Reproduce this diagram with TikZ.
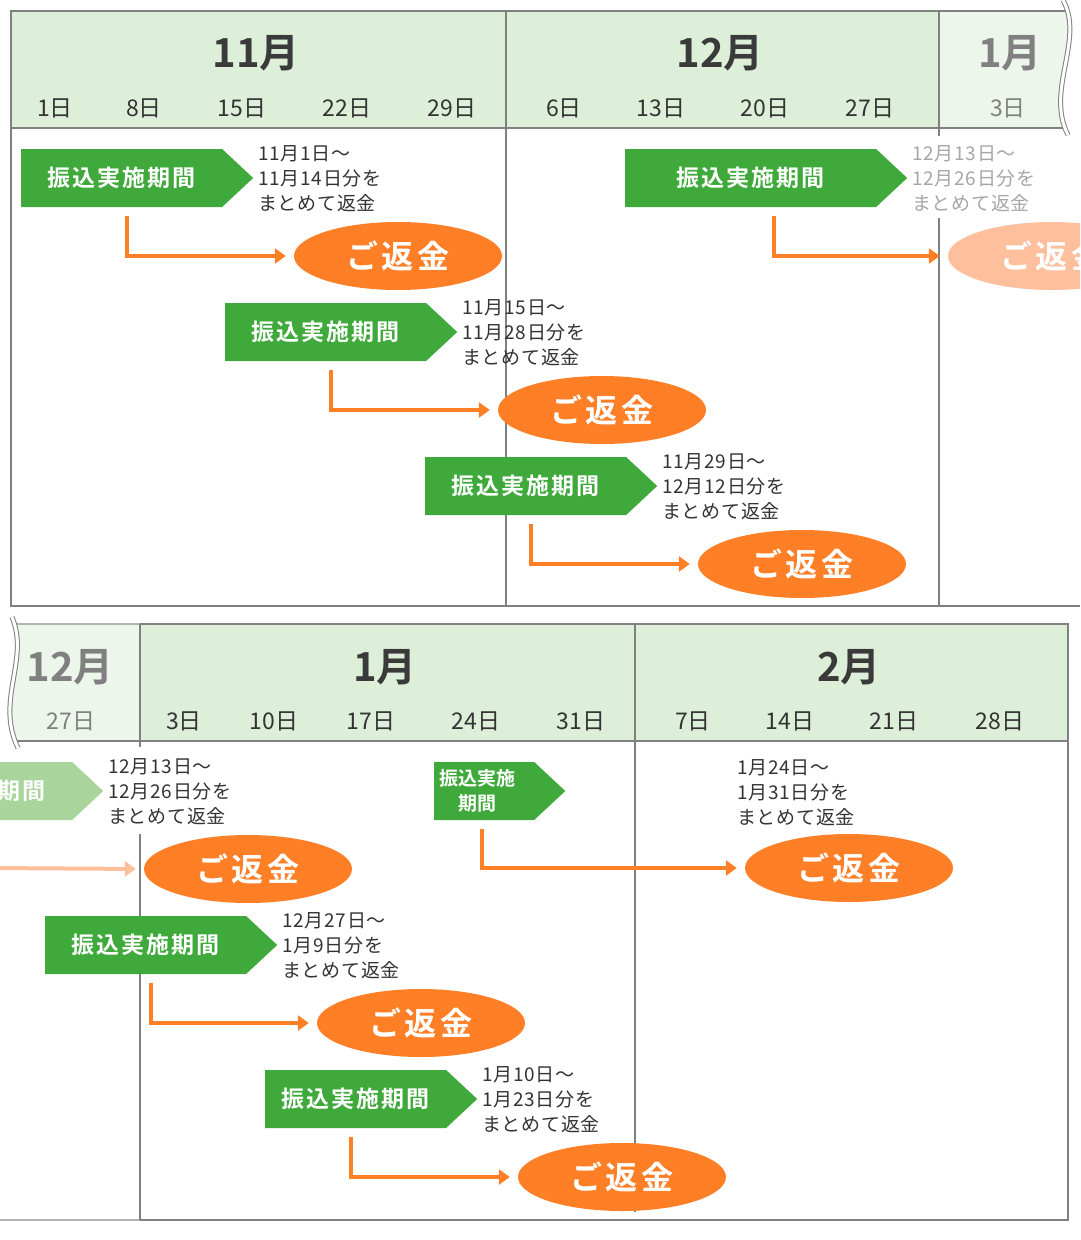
\documentclass[tikz,border=0pt]{standalone}
\usepackage{fontspec}
\setmainfont{Noto Sans CJK JP}
\newfontfamily\jpb{Noto Sans CJK JP Bold}
\newfontfamily\jpbs[LetterSpace=9]{Noto Sans CJK JP Bold}
\newfontfamily\jpbe[LetterSpace=12]{Noto Sans CJK JP Bold}
\newfontfamily\jpn[LetterSpace=4]{Noto Sans CJK JP}
\usetikzlibrary{shapes.geometric,shapes.symbols,arrows.meta}
\definecolor{hdr}{HTML}{DEEFD9}
\definecolor{hdrf}{HTML}{EDF6EA}
\definecolor{grn}{HTML}{3FAA3B}
\definecolor{grnf}{HTML}{A9D59C}
\definecolor{org}{HTML}{FF7F27}
\definecolor{orgf}{HTML}{FDBF9C}
\definecolor{gl}{HTML}{808080}
\definecolor{txt}{HTML}{333333}
\definecolor{mon}{HTML}{3A3A3A}
\begin{document}
\begin{tikzpicture}[x=1pt,y=-1pt,
 flag/.style={shape=signal,signal to=east,signal pointer angle=86,fill=grn,minimum width=232pt,minimum height=58pt,inner sep=0pt,text=white,font=\jpbs\fontsize{23}{26}\selectfont,anchor=west},
 refund/.style={shape=ellipse,fill=org,minimum width=208pt,minimum height=68pt,inner sep=0pt,text=white,font=\jpbe\fontsize{32}{34}\selectfont},
 note/.style={anchor=north west,align=left,inner sep=0pt,text=txt,font=\jpn\fontsize{19}{25}\selectfont},
 oarr/.style={draw=org,line width=4pt,-{Triangle[length=11pt,width=15pt]},shorten >=8pt},
 month/.style={font=\jpb\fontsize{40}{42}\selectfont,text=mon},
 day/.style={font=\fontsize{23}{25}\selectfont,text=txt},
 grid/.style={draw=gl,line width=1.6pt}]
\useasboundingbox (0,0) rectangle (1080,1240);
\clip (0,0) rectangle (1080,1240);
% ---- top panel
\fill[hdr] (11,11) rectangle (939,128);
\fill[hdrf] (939,11) rectangle (1080,128);
\draw[grid] (1080,11) -- (11,11) -- (11,606) -- (1080,606);
\draw[grid] (11,128) -- (1080,128);
\draw[grid] (506,11) -- (506,606);
\draw[grid] (939,11) -- (939,606);
\fill[white] (1063,0) .. controls (1085,40) and (1045,90) .. (1068,135) -- (1080,135) -- (1080,0) -- cycle;
\draw[gl,line width=1pt,double=white,double distance=3pt] (1063,0) .. controls (1085,40) and (1045,90) .. (1068,135);
\node[month] (m11) at (256,53) {11月};
\node[month] (m12) at (720,53) {12月};
\node[month,text=gl] (m1a) at (1010,53) {1月};
\foreach \x/\t [count=\i] in {55/1日,144/8日,242/15日,347/22日,452/29日,564/6日,661/13日,765/20日,870/27日}
  \node[day] (td\i) at (\x,108) {\t};
\node[day,text=gl] (td10) at (1008,108) {3日};
% rows top
\node[flag] (g1) at (21,178) {振込実施期間};
\node[note] (n1) at (258,145) {11月1日〜\\11月14日分を\\まとめて返金};
\node[refund] (e1) at (398,256) {ご返金};
\draw[oarr] ([xshift=106pt,yshift=-9pt]g1.south west) |- (e1.west);
\node[flag] (g2) at (225,332) {振込実施期間};
\node[note] (n2) at (462,299) {11月15日〜\\11月28日分を\\まとめて返金};
\node[refund] (e2) at (602,410) {ご返金};
\draw[oarr] ([xshift=106pt,yshift=-9pt]g2.south west) |- (e2.west);
\node[flag] (g3) at (425,486) {振込実施期間};
\node[note] (n3) at (662,453) {11月29日〜\\12月12日分を\\まとめて返金};
\node[refund] (e3) at (802,564) {ご返金};
\draw[oarr] ([xshift=106pt,yshift=-9pt]g3.south west) |- (e3.west);
\node[flag,minimum width=282pt] (g4) at (625,178) {振込実施期間};
\fill[white] (930,136) rectangle (948,218);
\node[note,text=gl!70] (n4) at (912,145) {12月13日〜\\12月26日分を\\まとめて返金};
\node[refund,fill=orgf] (e4) at (1052,256) {ご返金};
\draw[oarr] ([xshift=149pt,yshift=-9pt]g4.south west) |- (e4.west);
% ---- bottom panel
\fill[hdrf] (0,624) rectangle (140,741);
\fill[hdr] (140,624) rectangle (1068,741);
\draw[grid,gl!60] (0,624) -- (140,624);
\draw[grid] (140,624) -- (1068,624) -- (1068,1220) -- (140,1220);
\draw[grid,gl!60] (0,1220) -- (140,1220);
\draw[grid] (0,741) -- (1068,741);
\draw[grid] (140,624) -- (140,1220);
\draw[grid] (635,624) -- (635,1212);
\fill[white] (12,617) .. controls (30,660) and (-5,700) .. (18,748) -- (0,748) -- (0,617) -- cycle;
\draw[gl,line width=1pt,double=white,double distance=3pt] (12,617) .. controls (30,660) and (-5,700) .. (18,748);
\node[month,text=gl] (m12b) at (70,667) {12月};
\node[month] (m1) at (385,667) {1月};
\node[month] (m2) at (849,667) {2月};
\node[day,text=gl] (bd0) at (71,721) {27日};
\foreach \x/\t [count=\i] in {184/3日,274/10日,371/17日,476/24日,581/31日,693/7日,790/14日,894/21日,1000/28日}
  \node[day] (bd\i) at (\x,721) {\t};
\node[flag,fill=grnf] (g5) at (-129,791) {振込実施期間};
\fill[white] (131,747) rectangle (149,834);
\node[note] (n5) at (108,758) {12月13日〜\\12月26日分を\\まとめて返金};
\node[refund] (e5) at (248,869) {ご返金};
\coordinate (s5) at (-10,868);
\draw[oarr,draw=orgf] (s5) -- (e5.west);
\node[flag,minimum width=122pt,align=center,font=\jpb\fontsize{19}{25}\selectfont,text width=100pt] (g6) at (434,791) {\hspace*{-14pt}振込実施\\\hspace*{-14pt}期間};
\node[note] (n6) at (737,759) {1月24日〜\\1月31日分を\\まとめて返金};
\node[refund] (e6) at (849,868) {ご返金};
\draw[oarr] ([xshift=48pt,yshift=-9pt]g6.south west) |- (e6.west);
\node[flag] (g7) at (45,945) {振込実施期間};
\node[note] (n7) at (282,912) {12月27日〜\\1月9日分を\\まとめて返金};
\node[refund] (e7) at (421,1023) {ご返金};
\draw[oarr] ([xshift=106pt,yshift=-9pt]g7.south west) |- (e7.west);
\node[flag,minimum width=212pt] (g8) at (265,1099) {振込実施期間};
\node[note] (n8) at (482,1066) {1月10日〜\\1月23日分を\\まとめて返金};
\node[refund] (e8) at (622,1177) {ご返金};
\draw[oarr] ([xshift=86pt,yshift=-9pt]g8.south west) |- (e8.west);
\end{tikzpicture}
\end{document}
